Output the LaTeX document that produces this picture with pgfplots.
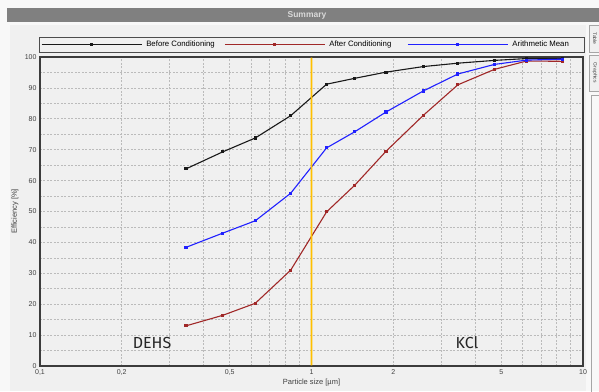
\documentclass[border=0pt]{standalone}
\usepackage{pgfplots}
\pgfplotsset{compat=1.18}
\usepackage{fontspec}
\setmainfont{Liberation Sans}
\newfontfamily\dinfont{Fira Sans}
\definecolor{outerbg}{HTML}{F8F8F8}
\definecolor{panelbg}{HTML}{F0F0F0}
\definecolor{barbg}{HTML}{808080}
\definecolor{gridc}{HTML}{BBBBBB}
\definecolor{redc}{HTML}{A02828}
\definecolor{bluec}{HTML}{2020FF}
\definecolor{ambr}{RGB}{255,192,0}
\definecolor{framec}{HTML}{3C3C3C}
\begin{document}
\begin{tikzpicture}
\useasboundingbox (0pt,0pt) rectangle (599pt,391pt);
\fill[outerbg] (0pt,0pt) rectangle (599pt,391pt);
\fill[barbg] (7pt,369pt) rectangle (599pt,383pt);
\node[text=white!85!black, font=\bfseries\fontsize{8.5}{9}\selectfont] at (307pt,376pt) {Summary};
\fill[panelbg] (10pt,0pt) rectangle (586pt,366pt);
\draw[gray!70, fill=panelbg] (589pt,339pt) rectangle (601pt,366pt);
\node[rotate=-90, font=\fontsize{5}{6}\selectfont, text=darkgray] at (595pt,352.5pt) {Table};
\draw[gray!70, fill=panelbg] (589pt,300pt) rectangle (601pt,336pt);
\node[rotate=-90, font=\fontsize{5}{6}\selectfont, text=darkgray] at (595pt,318pt) {Graphics};
\draw[gray!70] (591pt,-2pt) rectangle (601pt,296pt);
\begin{axis}[
  at={(40pt,25pt)}, anchor=south west,
  width=543pt, height=309pt, scale only axis,
  xmode=log, xmin=0.1, xmax=10, ymin=0, ymax=100,
  xtick={0.1,0.2,0.5,1,2,5,10},
  xticklabels={{0,1},{0,2},{0,5},1,2,5,10},
  minor xtick={0.3,0.4,0.6,0.7,0.8,0.9,3,4,6,7,8,9},
  ytick={0,10,...,100}, minor ytick={5,15,...,95},
  grid=both,
  major grid style={gridc, dash pattern=on 2pt off 1.5pt, line width=0.6pt},
  minor grid style={gridc, dash pattern=on 2pt off 1.5pt, line width=0.6pt},
  major tick length=0pt, minor tick length=0pt,
  axis line style={framec, line width=1.2pt},
  axis background/.style={fill=panelbg},
  tick label style={font=\fontsize{7}{8}\selectfont, text=black!75},
  /pgf/number format/assume math mode=true,
  xlabel={Particle size [µm]}, ylabel={Efficiency [\%]},
  label style={font=\fontsize{7.5}{8}\selectfont, text=black!75},
  xlabel style={at={(axis description cs:0.5,-0.055)}, anchor=center},
  ylabel style={at={(axis description cs:-0.046,0.5)}, anchor=center},
  legend columns=3,
  legend style={at={(rel axis cs:0,1)}, anchor=south west, yshift=5pt, xshift=-1pt,
    draw=black!70, fill=none, font=\fontsize{7.8}{9}\selectfont,
    inner xsep=2pt, inner ysep=1.5pt,
    /tikz/every even column/.append style={column sep=0pt}},
  legend image code/.code={\draw[mark repeat=2,mark phase=2,#1] plot coordinates {(0pt,0pt)(50pt,0pt)(100pt,0pt)};},
]
\addplot[black!90, line width=1.1pt, mark=square*, mark size=1.0pt] coordinates {
(0.345,63.8) (0.471,69.3) (0.621,73.8) (0.838,81.0) (1.137,91.2) (1.443,93.1)
(1.882,95.1) (2.58,96.9) (3.46,98.0) (4.72,98.9) (6.2,99.5) (8.4,99.5)};
\addlegendentry{\makebox[78pt][l]{\hspace{2pt}Before Conditioning}}
\addplot[redc, line width=1.1pt, mark=square*, mark size=1.0pt] coordinates {
(0.345,13.0) (0.471,16.4) (0.621,20.3) (0.838,31.0) (1.137,49.9) (1.443,58.5)
(1.882,69.5) (2.58,81.1) (3.46,91.0) (4.72,96.0) (6.2,98.7) (8.4,98.6)};
\addlegendentry{\makebox[78pt][l]{\hspace{2pt}After Conditioning}}
\addplot[bluec, line width=1.1pt, mark=square*, mark size=1.0pt] coordinates {
(0.345,38.4) (0.471,43.0) (0.621,47.0) (0.838,55.9) (1.137,70.6) (1.443,75.8)
(1.882,82.2) (2.58,89.0) (3.46,94.5) (4.72,97.6) (6.2,99.0) (8.4,99.3)};
\addlegendentry{\makebox[70pt][l]{\hspace{2pt}Arithmetic Mean}}
\addplot[color=ambr, line width=1.8pt, forget plot] coordinates {(1,0.2) (1.0001,99.8)};
\draw[color=ambr, line width=1.8pt] (axis cs:1,0.2) -- (axis cs:1,99.8);
\end{axis}
\node[font=\dinfont\fontsize{16}{18}\selectfont, text=black!85] at (152pt,48pt) {DEHS};
\node[font=\dinfont\fontsize{16}{18}\selectfont, text=black!85] at (467pt,48pt) {KCl};
\end{tikzpicture}
\end{document}
